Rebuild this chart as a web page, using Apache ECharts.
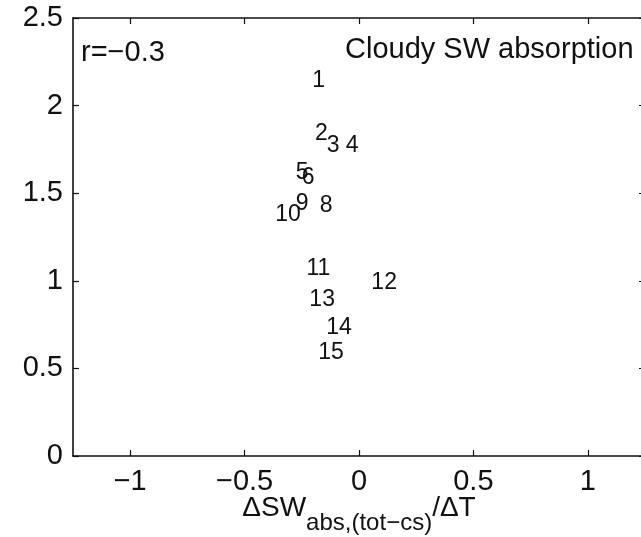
<!DOCTYPE html>
<html>
<head>
<meta charset="utf-8">
<script src="https://cdn.jsdelivr.net/npm/echarts@6/dist/echarts.min.js"></script>
<style>
  html, body { margin: 0; padding: 0; background: #fff; }
  #chart { width: 641px; height: 537px; }
</style>
</head>
<body>
<div id="chart"></div>
<script>
// Model labels and their (cloud SW absorption change, feedback) coordinates
const modelLabels = ['1', '2', '3', '4', '5', '6', '8', '9', '10', '11', '12', '13', '14', '15'];
const dSWabs = [-0.204, -0.192, -0.141, -0.058, -0.276, -0.250, -0.172, -0.276, -0.366, -0.230, 0.054, -0.217, -0.143, -0.178];
const feedback = [2.14, 1.84, 1.77, 1.77, 1.615, 1.59, 1.43, 1.44, 1.375, 1.07, 0.99, 0.89, 0.735, 0.59];

// Axis ticks
const xTicks = [-1, -0.5, 0, 0.5, 1];
const yTicks = [0, 0.5, 1, 1.5, 2, 2.5];
const xRange = [-1.25, 1.25];
const yRange = [0, 2.5];

const corrText = 'r=\u22120.3';
const panelTitle = 'Cloudy SW absorption';

const FONT = '"Liberation Sans", Arial, Helvetica, sans-serif';
const INK = '#111111';
const fmt = v => String(v).replace('-', '\u2212');

const points = modelLabels.map((lab, i) => ({ name: lab, value: [dSWabs[i], feedback[i]] }));

const frameLine = { show: true, onZero: false, lineStyle: { color: INK, width: 1.6 } };
const tickIn = { show: true, inside: true, length: 6, lineStyle: { color: INK, width: 1.2 } };

const chart = echarts.init(document.getElementById('chart'), null, { renderer: 'canvas' });
chart.setOption({
  animation: false,
  backgroundColor: '#fff',
  grid: { left: 73, top: 18, width: 572, height: 438, containLabel: false, outerBoundsMode: 'none' },
  xAxis: [
    {
      type: 'value', position: 'bottom', min: xRange[0], max: xRange[1],
      axisLine: frameLine,
      axisTick: Object.assign({ customValues: xTicks }, tickIn),
      axisLabel: {
        customValues: xTicks, formatter: fmt, margin: 11,
        color: INK, fontSize: 29, fontFamily: FONT
      },
      splitLine: { show: false },
      name: '{a|\u0394SW}{b|abs,(tot\u2212cs)}{a|/\u0394T}',
      nameLocation: 'middle',
      nameGap: 38,
      nameMoveOverlap: false,
      nameTextStyle: {
        rich: {
          a: { fontSize: 28, lineHeight: 30, fontFamily: FONT, color: INK, verticalAlign: 'top' },
          b: { fontSize: 24, lineHeight: 24, fontFamily: FONT, color: INK, verticalAlign: 'top', padding: [17, 0, 0, 0] }
        }
      }
    },
    {
      type: 'value', position: 'top', min: xRange[0], max: xRange[1],
      axisLine: frameLine,
      axisTick: Object.assign({ customValues: xTicks }, tickIn),
      axisLabel: { show: false },
      splitLine: { show: false }
    }
  ],
  yAxis: [
    {
      type: 'value', position: 'left', min: yRange[0], max: yRange[1], interval: 0.5,
      axisLine: frameLine,
      axisTick: Object.assign({ customValues: yTicks }, tickIn),
      axisLabel: {
        customValues: yTicks, formatter: fmt, margin: 10,
        color: INK, fontSize: 29, fontFamily: FONT
      },
      splitLine: { show: false }
    },
    {
      type: 'value', position: 'right', min: yRange[0], max: yRange[1], interval: 0.5,
      axisLine: frameLine,
      axisTick: Object.assign({ customValues: yTicks }, tickIn),
      axisLabel: { show: false },
      splitLine: { show: false }
    }
  ],
  series: [
    {
      type: 'scatter',
      xAxisIndex: 0, yAxisIndex: 0,
      data: points,
      symbolSize: 0,
      itemStyle: { opacity: 1 },
      label: {
        show: true,
        position: 'right',
        distance: 0,
        offset: [0, 2],
        formatter: p => p.name,
        color: INK,
        fontSize: 23,
        fontFamily: FONT
      },
      labelLayout: { hideOverlap: false }
    }
  ],
  graphic: [
    {
      type: 'text', left: 81, top: 38,
      style: { text: corrText, fill: INK, fontSize: 29, fontFamily: FONT, verticalAlign: 'middle' }
    },
    {
      type: 'text', left: 345, top: 35,
      style: { text: panelTitle, fill: INK, fontSize: 29, fontFamily: FONT, verticalAlign: 'middle' }
    }
  ]
});
</script>
</body>
</html>
